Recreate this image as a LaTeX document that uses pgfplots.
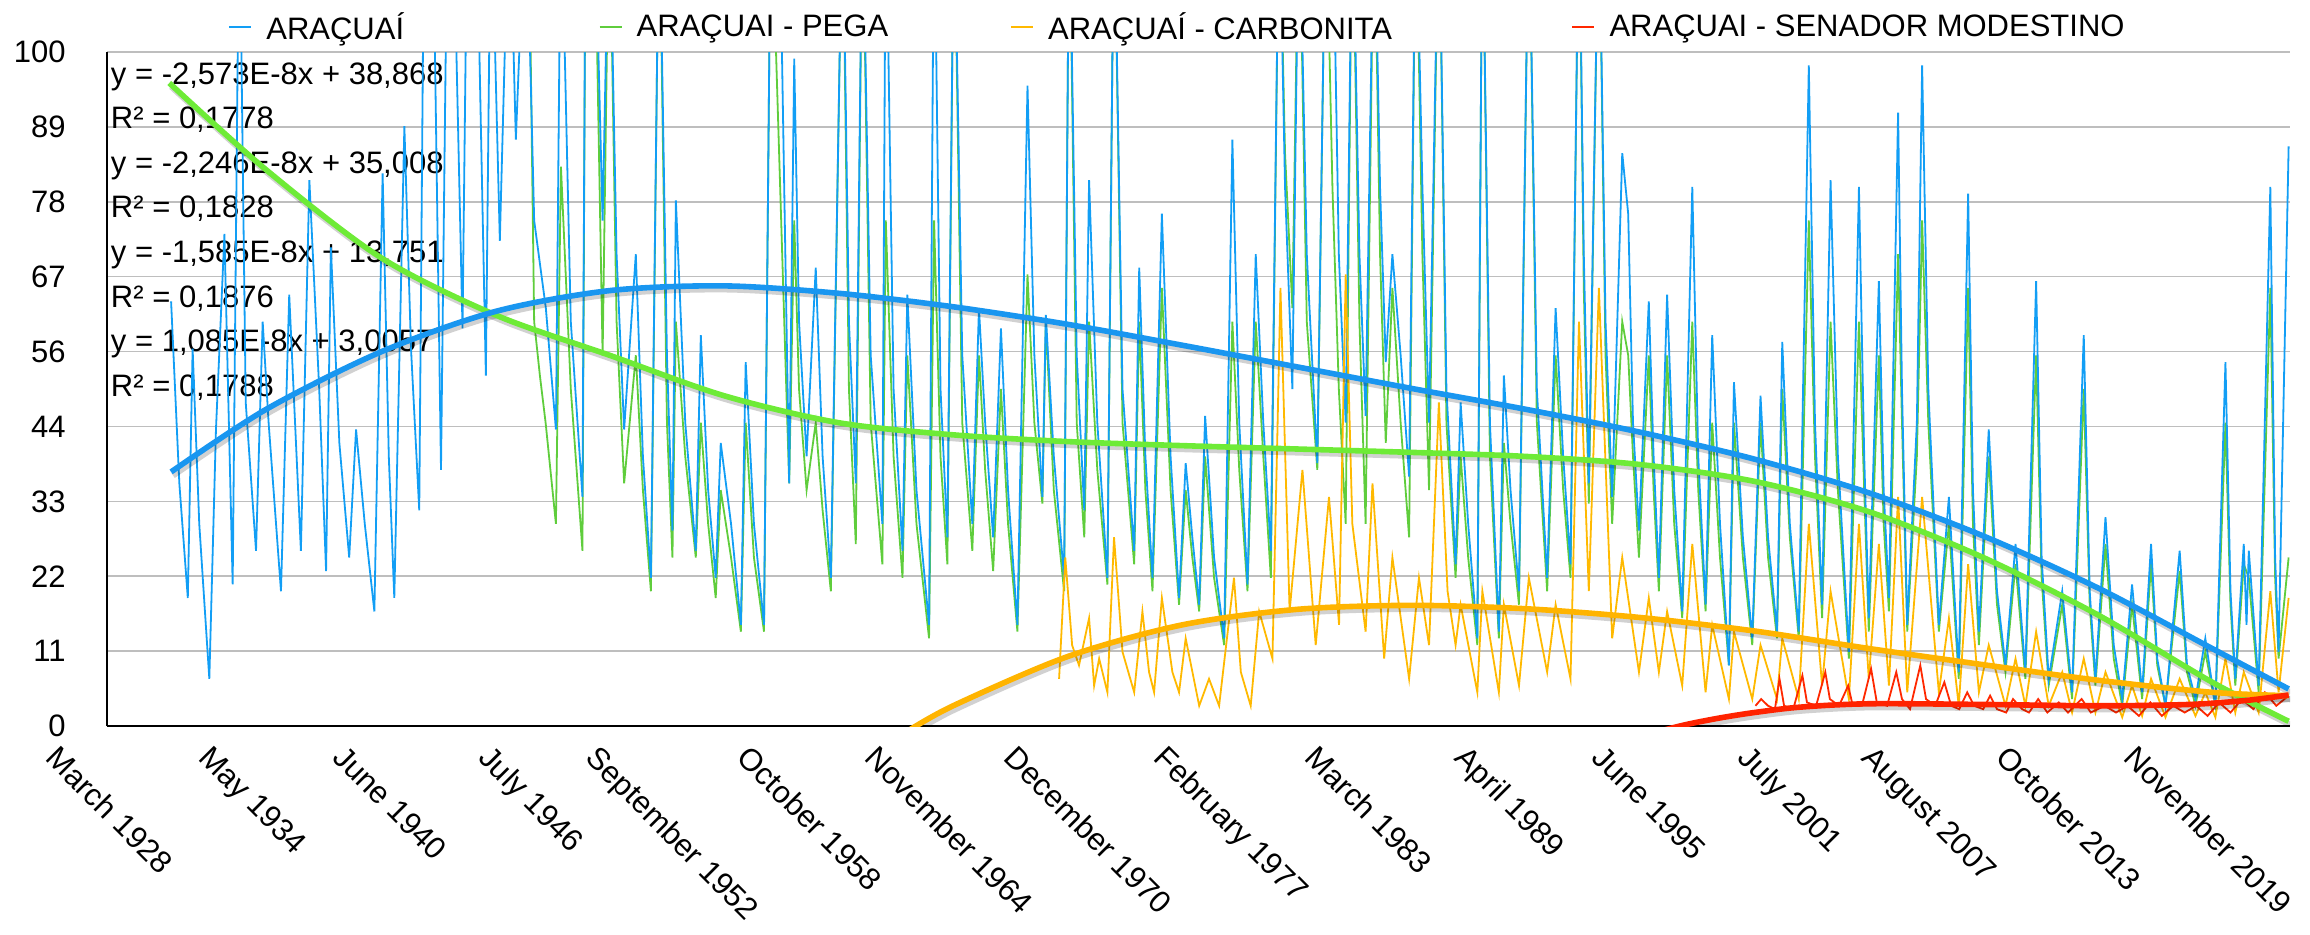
\documentclass[border=0pt]{standalone}
\usepackage{pgfplots}
\usepackage{pgfplotstable}
\pgfplotsset{compat=1.18}
\usepackage{fontspec}
\setmainfont{Liberation Sans}
\usepackage{graphicx}
\definecolor{blueS}{RGB}{18,158,245}
\definecolor{greenS}{RGB}{95,205,60}
\definecolor{orangeS}{RGB}{255,185,0}
\definecolor{redS}{RGB}{255,40,0}
\definecolor{blueT}{RGB}{25,150,240}
\definecolor{greenT}{RGB}{110,235,55}
\definecolor{orangeT}{RGB}{255,180,0}
\definecolor{redT}{RGB}{255,35,0}
\newcommand{\rl}[1]{\rotatebox{-45}{#1}}

\pgfplotstableread{
x y
1930.84 63
1931.20 36
1931.57 19
1931.78 56
1932.07 30
1932.51 7
1932.80 44
1933.17 73
1933.53 21
1933.82 125
1934.10 48
1934.55 26
1934.84 60
1935.10 45
1935.64 20
1936.00 64
1936.51 26
1936.88 81
1937.31 50
1937.61 23
1937.82 71
1938.19 42
1938.62 25
1938.92 44
1939.30 30
1939.72 17
1940.08 82
1940.35 40
1940.59 19
1941.03 89
1941.32 56
1941.68 32
1941.90 125
1942.26 125
1942.63 38
1942.92 125
1943.14 125
1943.57 59
1943.79 125
1944.16 125
1944.59 52
1944.81 125
1945.20 72
1945.61 125
1945.90 87
1946.34 125
1946.70 75
1947.21 62
1947.65 44
1947.87 125
1948.30 60
1948.81 34
1948.95 125
1949.32 125
1949.69 75
1949.98 125
1950.30 70
1950.63 44
1951.14 70
1951.45 40
1951.80 22
1952.16 125
1952.50 55
1952.74 29
1952.89 78
1953.30 45
1953.76 26
1953.98 58
1954.30 35
1954.63 22
1954.85 42
1955.30 30
1955.73 15
1955.94 54
1956.30 30
1956.74 15
1957.04 125
1957.40 125
1957.84 36
1958.06 99
1958.27 60
1958.60 40
1959.00 68
1959.30 40
1959.66 22
1960.17 125
1960.45 60
1960.75 36
1961.04 125
1961.40 55
1961.91 30
1962.06 125
1962.40 50
1962.79 26
1963.00 64
1963.40 35
1963.95 15
1964.17 125
1964.45 50
1964.75 28
1965.04 125
1965.40 55
1965.84 30
1966.13 62
1966.40 45
1966.75 28
1967.09 59
1967.40 35
1967.81 15
1968.25 95
1968.55 55
1968.90 34
1969.05 61
1969.40 40
1969.85 22
1970.07 125
1970.40 55
1970.73 32
1970.94 81
1971.30 45
1971.74 22
1972.03 125
1972.40 50
1972.91 26
1973.13 68
1973.40 40
1973.71 22
1974.12 76
1974.50 40
1974.87 19
1975.16 39
1975.45 28
1975.75 18
1976.01 46
1976.40 25
1976.84 13
1977.20 87
1977.50 45
1977.86 21
1978.22 70
1978.55 45
1978.88 26
1979.24 125
1979.50 80
1979.82 50
1980.11 125
1980.45 70
1980.91 39
1981.28 125
1981.57 125
1981.85 70
1982.15 45
1982.44 125
1982.75 70
1983.02 46
1983.39 125
1983.65 80
1983.90 54
1984.19 70
1984.55 55
1984.92 37
1985.21 125
1985.50 80
1985.79 45
1986.22 125
1986.55 50
1986.95 24
1987.17 48
1987.50 30
1987.90 13
1988.12 125
1988.45 45
1988.84 14
1989.06 52
1989.35 35
1989.72 20
1990.15 125
1990.50 50
1990.95 22
1991.32 62
1991.65 40
1991.97 24
1992.34 125
1992.55 70
1992.77 36
1993.21 125
1993.50 60
1993.79 34
1994.23 85
1994.49 76
1994.70 45
1994.96 29
1995.39 63
1995.60 40
1995.83 22
1996.19 64
1996.50 35
1996.85 17
1997.29 80
1997.55 40
1997.87 18
1998.16 58
1998.50 30
1998.89 9
1999.11 51
1999.50 28
1999.91 13
2000.27 49
2000.60 28
2000.99 14
2001.22 57
2001.55 30
2001.94 14
2002.38 98
2002.65 45
2002.96 18
2003.33 81
2003.65 40
2004.13 11
2004.57 80
2004.80 40
2005.00 16
2005.44 66
2005.65 35
2005.88 19
2006.28 91
2006.45 50
2006.68 15
2007.10 45
2007.33 98
2007.60 50
2008.06 15
2008.50 34
2008.93 8
2009.34 79
2009.55 35
2009.81 14
2010.24 44
2010.60 20
2010.97 9
2011.41 27
2011.84 8
2012.31 66
2012.55 25
2012.86 7
2013.45 20
2013.88 5
2014.39 58
2014.65 20
2014.90 7
2015.34 31
2015.70 12
2016.07 4
2016.50 21
2016.94 5
2017.33 27
2017.60 10
2017.96 3
2018.58 26
2018.90 9
2019.27 4
2019.70 13
2020.14 3
2020.58 54
2020.80 20
2021.01 7
2021.38 27
2021.50 15
2021.60 26
2022.03 6
2022.54 80
2022.75 25
2022.90 11
2023.34 86
}\dataB

\pgfplotstableread{
x y
1946.20 125
1946.45 125
1946.70 60
1946.95 52
1947.20 45
1947.65 30
1947.87 83
1948.30 50
1948.81 26
1948.95 125
1949.32 125
1949.69 55
1949.98 125
1950.30 60
1950.63 36
1951.14 55
1951.45 35
1951.80 20
1952.16 125
1952.50 45
1952.74 25
1952.89 60
1953.30 40
1953.76 25
1953.98 45
1954.30 30
1954.63 19
1954.85 35
1955.30 25
1955.73 14
1955.94 45
1956.30 25
1956.74 14
1957.04 125
1957.40 85
1957.84 36
1958.06 75
1958.27 50
1958.60 35
1959.00 45
1959.30 32
1959.66 20
1960.17 125
1960.45 50
1960.75 27
1961.04 125
1961.40 45
1961.91 24
1962.06 75
1962.40 40
1962.79 22
1963.00 55
1963.40 30
1963.95 13
1964.17 75
1964.45 40
1964.75 24
1965.04 125
1965.40 45
1965.84 26
1966.13 55
1966.40 38
1966.75 23
1967.09 50
1967.40 30
1967.81 14
1968.25 67
1968.55 45
1968.90 33
1969.05 60
1969.40 35
1969.85 20
1970.07 125
1970.40 45
1970.73 28
1970.94 60
1971.30 38
1971.74 21
1972.03 125
1972.40 45
1972.91 24
1973.13 60
1973.40 35
1973.71 20
1974.12 65
1974.50 35
1974.87 18
1975.16 35
1975.45 25
1975.75 17
1976.01 40
1976.40 22
1976.84 12
1977.20 60
1977.50 38
1977.86 20
1978.22 60
1978.55 40
1978.88 22
1979.24 125
1979.50 85
1979.82 62
1980.11 125
1980.45 60
1980.91 38
1981.28 125
1981.57 80
1981.85 50
1982.15 30
1982.44 125
1982.75 60
1983.02 30
1983.39 125
1983.65 70
1983.90 42
1984.19 65
1984.55 45
1984.92 28
1985.21 125
1985.50 70
1985.79 35
1986.22 125
1986.55 45
1986.95 22
1987.17 40
1987.50 25
1987.90 12
1988.12 125
1988.45 40
1988.84 13
1989.06 42
1989.35 30
1989.72 18
1990.15 125
1990.50 45
1990.95 20
1991.32 55
1991.65 35
1991.97 22
1992.34 125
1992.55 65
1992.77 33
1993.21 125
1993.50 55
1993.79 30
1994.23 60
1994.49 55
1994.70 40
1994.96 25
1995.39 55
1995.60 35
1995.83 20
1996.19 55
1996.50 30
1996.85 16
1997.29 60
1997.55 35
1997.87 17
1998.16 45
1998.50 25
1998.89 9
1999.11 45
1999.50 25
1999.91 12
2000.27 45
2000.60 25
2000.99 13
2001.22 50
2001.55 28
2001.94 13
2002.38 75
2002.65 40
2002.96 16
2003.33 60
2003.65 35
2004.13 10
2004.57 60
2004.80 35
2005.00 14
2005.44 55
2005.65 30
2005.88 17
2006.28 70
2006.45 45
2006.68 14
2007.10 40
2007.33 75
2007.60 45
2008.06 14
2008.50 30
2008.93 7
2009.34 65
2009.55 30
2009.81 12
2010.24 40
2010.60 18
2010.97 8
2011.41 24
2011.84 7
2012.31 55
2012.55 22
2012.86 6
2013.45 18
2013.88 4
2014.39 50
2014.65 18
2014.90 6
2015.34 27
2015.70 10
2016.07 3
2016.50 18
2016.94 4
2017.33 24
2017.60 9
2017.96 3
2018.58 23
2018.90 8
2019.27 3
2019.70 11
2020.14 3
2020.58 45
2020.80 18
2021.01 6
2021.38 24
2021.60 22
2022.03 5
2022.54 65
2022.75 22
2022.90 10
2023.34 25
}\dataG

\pgfplotstableread{
x y
1969.63 7
1969.90 25
1970.20 12
1970.50 9
1970.94 16
1971.16 6
1971.38 10
1971.74 5
1972.03 28
1972.40 11
1972.91 5
1973.27 17
1973.56 8
1973.78 5
1974.12 19
1974.58 8
1974.87 5
1975.16 13
1975.75 3
1976.18 7
1976.62 3
1977.27 22
1977.57 8
1978.00 3
1978.37 17
1978.95 10
1979.17 44
1979.30 65
1979.70 17
1980.26 38
1980.84 12
1981.42 34
1981.86 15
1982.15 67
1982.44 30
1983.02 14
1983.32 36
1983.83 10
1984.19 25
1984.92 7
1985.35 22
1985.79 12
1986.22 48
1986.60 20
1986.95 12
1987.17 18
1987.90 5
1988.12 20
1988.84 5
1989.06 18
1989.72 6
1990.15 22
1990.95 8
1991.32 18
1991.97 7
1992.34 60
1992.77 20
1993.21 65
1993.79 13
1994.23 25
1994.96 8
1995.39 19
1995.83 8
1996.19 17
1996.85 6
1997.29 27
1997.87 5
1998.16 15
1998.89 4
1999.11 14
1999.91 4
2000.27 12
2000.99 4
2001.22 13
2001.94 4
2002.38 30
2002.96 6
2003.33 20
2004.13 4
2004.57 30
2005.00 7
2005.44 27
2005.88 6
2006.28 34
2006.68 5
2007.33 34
2008.06 5
2008.50 16
2008.93 3
2009.34 24
2009.81 5
2010.24 12
2010.97 3
2011.41 10
2011.84 3
2012.31 14
2012.86 3
2013.45 8
2013.88 2
2014.39 10
2014.90 2
2015.34 8
2016.07 1.3
2016.50 6
2016.94 1.5
2017.33 7
2017.96 1.3
2018.58 7
2019.27 1.5
2019.70 5
2020.14 1.3
2020.58 10
2021.01 2
2021.38 8
2022.03 2
2022.54 20
2022.90 5
2023.34 19
}\dataO

\pgfplotstableread{
x y
2000.05 3
2000.30 4
2000.60 3
2000.90 2.5
2001.10 7
2001.30 3
2001.70 2.5
2002.10 7.5
2002.30 3.5
2002.70 3
2003.10 8
2003.30 4
2003.70 3
2004.10 6
2004.30 3
2004.70 3
2005.10 8.5
2005.35 3.5
2005.80 3
2006.20 8
2006.45 4
2006.80 2.5
2007.25 9
2007.50 4
2007.90 3
2008.30 6.5
2008.60 3
2008.95 2.5
2009.30 5
2009.60 3
2010.00 2.5
2010.30 4.5
2010.60 2.5
2011.00 2
2011.30 4
2011.70 2.5
2012.00 2
2012.40 4
2012.80 2
2013.30 3.5
2013.70 2
2014.30 4
2014.70 2
2015.30 3
2015.80 2
2016.30 3
2016.80 1.5
2017.30 3.5
2017.80 1.5
2018.30 3
2018.80 2
2019.30 3
2019.80 1.5
2020.30 3.5
2020.80 2
2021.30 4
2021.80 2.5
2022.30 5
2022.80 3
2023.34 4.5
}\dataR

\pgfplotstableread{
x y
1930.84 37.7
1935 47
1940 55.5
1945 61.5
1950 64.6
1955 65.3
1960 64.2
1965 62.2
1970 59.6
1975 56.5
1980 53.3
1985 50.1
1990 47
1995 43.6
2000 39.6
2005 34.6
2010 28.2
2015 20.5
2020 11.5
2023.34 5.5
}\trendB

\pgfplotstableread{
x y
1930.76 95.4
1935 82.5
1940 69.5
1945 61
1950 55
1955 49
1960 45
1965 43.2
1970 42.2
1975 41.6
1980 41.1
1985 40.6
1990 40
1995 38.8
2000 36.3
2005 31.8
2010 25
2015 16.5
2020 6.5
2023.34 0.7
}\trendG

\pgfplotstableread{
x y
1962.9 -1
1965 3
1970 10.3
1975 15
1980 17.3
1985 17.9
1990 17.4
1995 16.1
2000 14.1
2005 11.5
2010 9.1
2015 6.8
2020 5
2023.34 4.5
}\trendO

\pgfplotstableread{
x y
1995.6 -1
1997.0 0.2
1998.5 1.2
2000.0 2
2002.0 2.8
2005.0 3.3
2010.0 3.2
2015.0 3.0
2019.0 3.2
2021.5 3.8
2023.34 4.6
}\trendR

\begin{document}
\begin{tikzpicture}
\begin{axis}[
  at={(0pt,0pt)}, anchor=south west,
  scale only axis, width=1091.5pt, height=337pt,
  xmin=1928.04, xmax=2023.4, ymin=0, ymax=100,
  enlargelimits=false,
  axis lines=left,
  axis line style={black, line width=1.2pt, -},
  major tick length=0pt,
  font=\fontsize{15.5}{18}\selectfont,
  /pgf/number format/assume math mode=true,
  ytick={0,11.111,22.222,33.333,44.444,55.556,66.667,77.778,88.889,100},
  yticklabels={0,11,22,33,44,56,67,78,89,100},
  xtick={1928.167,1934.333,1940.417,1946.5,1952.667,1958.75,1964.833,1970.917,1977.083,1983.167,1989.25,1995.417,2001.5,2007.583,2013.75,2019.833},
  xticklabels={\rl{March 1928},\rl{May 1934},\rl{June 1940},\rl{July 1946},\rl{September 1952},\rl{October 1958},\rl{November 1964},\rl{December 1970},\rl{February 1977},\rl{March 1983},\rl{April 1989},\rl{June 1995},\rl{July 2001},\rl{August 2007},\rl{October 2013},\rl{November 2019}},
  yticklabel style={anchor=east, inner sep=0pt, xshift=-20.5pt},
  xticklabel style={anchor=north, inner sep=0pt, yshift=-8.8pt},
  ymajorgrids,
  grid style={draw={rgb,255:red,190;green,190;blue,190}, line width=0.8pt},
  legend columns=4,
  legend style={draw=none, fill=none, inner sep=0pt, outer sep=0pt,
    at={(0.0554,1.037)}, anchor=west,
    nodes={inner sep=0pt},
    /tikz/every odd column/.append style={column sep=7pt}},
  legend image code/.code={\draw[#1, line width=1.2pt] (0pt,0pt) -- (11pt,0pt);},
]
% equation texts (under the data)
\begingroup
\fontsize{16}{19}\selectfont
\node[anchor=base west, inner sep=0pt, xshift=1.8pt, yshift=-16pt] at (rel axis cs:0,1) {y = -2,573E-8x + 38,868};
\node[anchor=base west, inner sep=0pt, xshift=1.8pt, yshift=-38.3pt] at (rel axis cs:0,1) {R² = 0,1778};
\node[anchor=base west, inner sep=0pt, xshift=1.8pt, yshift=-60.6pt] at (rel axis cs:0,1) {y = -2,246E-8x + 35,008};
\node[anchor=base west, inner sep=0pt, xshift=1.8pt, yshift=-82.9pt] at (rel axis cs:0,1) {R² = 0,1828};
\node[anchor=base west, inner sep=0pt, xshift=1.8pt, yshift=-105.2pt] at (rel axis cs:0,1) {y = -1,585E-8x + 13,751};
\node[anchor=base west, inner sep=0pt, xshift=1.8pt, yshift=-127.5pt] at (rel axis cs:0,1) {R² = 0,1876};
\node[anchor=base west, inner sep=0pt, xshift=1.8pt, yshift=-149.8pt] at (rel axis cs:0,1) {y = 1,085E-8x + 3,0057};
\node[anchor=base west, inner sep=0pt, xshift=1.8pt, yshift=-172.1pt] at (rel axis cs:0,1) {R² = 0,1788};
\endgroup

\addplot[greenS, line width=0.9pt, forget plot] table {\dataG};
\addplot[blueS, line width=0.9pt] table {\dataB};
\addlegendentry{\makebox[166pt][l]{ARAÇUAÍ}}
\addlegendimage{greenS, line width=0.9pt}
\addlegendentry{\makebox[186.5pt][l]{ARAÇUAI - PEGA}}
\addplot[orangeS, line width=0.9pt] table {\dataO};
\addlegendentry{\makebox[261.5pt][l]{ARAÇUAÍ - CARBONITA}}
\addplot[redS, line width=0.9pt] table {\dataR};
\addlegendentry{ARAÇUAI - SENADOR MODESTINO}

% trend line shadows
\addplot[black, opacity=0.18, line width=3pt, smooth, forget plot, transform canvas={xshift=1pt,yshift=-1.8pt}] table {\trendG};
\addplot[black, opacity=0.18, line width=3pt, smooth, forget plot, transform canvas={xshift=1pt,yshift=-1.8pt}] table {\trendB};
\addplot[black, opacity=0.18, line width=3pt, smooth, forget plot, transform canvas={xshift=1pt,yshift=-1.8pt}] table {\trendO};
\addplot[black, opacity=0.18, line width=3pt, smooth, forget plot, transform canvas={xshift=1pt,yshift=-1.8pt}] table {\trendR};
% trend lines
\addplot[greenT, line width=2.8pt, smooth, forget plot] table {\trendG};
\addplot[blueT, line width=2.8pt, smooth, forget plot] table {\trendB};
\addplot[orangeT, line width=2.8pt, smooth, forget plot] table {\trendO};
\addplot[redT, line width=2.8pt, smooth, forget plot] table {\trendR};
\end{axis}
\pgfresetboundingbox
\useasboundingbox (-53.5pt,-104pt) rectangle (1101.5pt,363pt);
\end{tikzpicture}
\end{document}
